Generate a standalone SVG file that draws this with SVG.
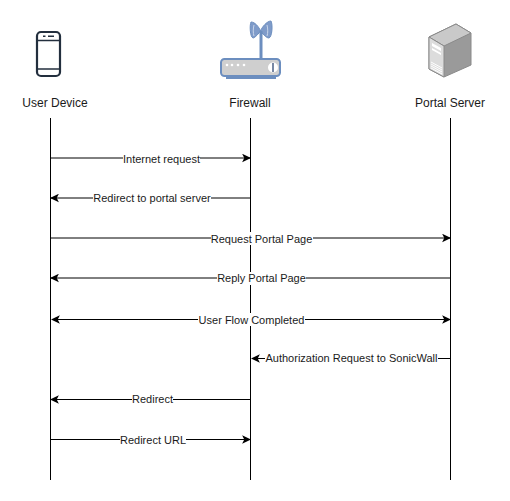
<svg xmlns="http://www.w3.org/2000/svg" width="510" height="501" viewBox="0 0 510 501">
<defs>
<marker id="a" markerUnits="userSpaceOnUse" markerWidth="9" markerHeight="9" refX="7" refY="4" orient="auto-start-reverse" viewBox="0 0 8 8"><path d="M0 0.200L8 4L0 7.800L1.900 4Z" fill="#000"/></marker>
</defs>
<style>
text{font-family:"Liberation Sans",Arial,sans-serif;font-size:11px;fill:#1a1a1a;text-anchor:middle}
.t{font-size:12px}
.l{stroke:#000;stroke-width:1;fill:none}
.c{stroke:#000;stroke-width:1;fill:none;marker-end:url(#a)}
.b{fill:#fff}
</style>
<rect width="510" height="501" fill="#fff"/>
<g id="lifelines">
<path class="l" d="M50.500 118V480M250.500 118V480M450.500 118V480"/>
</g>
<g id="connectors">
<path class="c" d="M51 158H250"/>
<path class="c" d="M250 198H51"/>
<path class="c" d="M51 238H450"/>
<path class="c" d="M450 278H51"/>
<path class="c" style="marker-start:url(#a)" d="M52 319.500H450"/>
<path class="c" d="M450 358.500H252"/>
<path class="c" d="M250 399.500H51"/>
<path class="c" d="M51 439.500H250"/>
</g>
<g id="labels">
<rect class="b" x="123" y="152" width="77" height="13"/><text x="161.500" y="163">Internet request</text>
<rect class="b" x="93" y="191" width="118" height="13"/><text x="152" y="201.500">Redirect to portal server</text>
<rect class="b" x="211" y="232" width="102" height="13"/><text x="261.500" y="243">Request Portal Page</text>
<rect class="b" x="217" y="272" width="89" height="13"/><text x="261.500" y="282">Reply Portal Page</text>
<rect class="b" x="198" y="313" width="107" height="13"/><text x="251.500" y="324">User Flow Completed</text>
<rect class="b" x="265" y="352" width="173" height="13"/><text x="351.500" y="362">Authorization Request to SonicWall</text>
<rect class="b" x="132" y="393" width="41" height="13"/><text x="152.500" y="403">Redirect</text>
<rect class="b" x="120" y="433" width="66" height="13"/><text x="153" y="444">Redirect URL</text>
</g>
<g id="user-device">
<rect x="37" y="32" width="23" height="44" rx="4" fill="#fff" stroke="#232f3e" stroke-width="2.200"/>
<path d="M37 40.500H60M37 69H60" stroke="#232f3e" stroke-width="1.500" fill="none"/>
<path d="M43 36.300H45.500M48 36.300H54" stroke="#232f3e" stroke-width="1.600" fill="none"/>
<text class="t" x="55" y="107">User Device</text>
</g>
<g id="firewall">
<g fill="#7f9bc9" stroke="#6c8ebf" stroke-width="1">
<path d="M251 22C255 22 259 27 260.500 31C259 33 255 38 253 38C250 37 249.500 25 251 22Z"/>
<path d="M271 21C267 21 262 27 260.500 31C262 33 266 38 269 38C272 37 273 25 271 21Z"/>
</g>
<path d="M254 25C253 29 253 33 254 36M267 25C268 29 268 33 267 36" stroke="#c9d6ea" stroke-width="1" fill="none"/>
<path d="M261 31V59" stroke="#6c8ebf" stroke-width="3"/>
<path d="M226 79H276V75H226Z" fill="#6c8ebf"/>
<rect x="221" y="59" width="59" height="17" rx="3.500" fill="#cfcfcf" stroke="#6c8ebf" stroke-width="2"/>
<circle cx="273" cy="67.500" r="5" fill="#fff"/>
<path d="M273 63V72" stroke="#4a5f85" stroke-width="1.500"/>
<g fill="#fff"><circle cx="227" cy="65" r="1.300"/><circle cx="232" cy="65" r="1.300"/><circle cx="238" cy="65" r="1.300"/><circle cx="244" cy="65" r="1.300"/></g>
<text class="t" x="250" y="107">Firewall</text>
</g>
<g id="portal-server">
<path d="M429 37L456 24L471 33V65L444 77L429 69Z" fill="#9a9a9a" stroke="#8a8a8a"/>
<path d="M429 37L456 24L471 33L444 46Z" fill="#c9c9c9" stroke="#8a8a8a"/>
<path d="M429 37L444 46V77L429 69Z" fill="#dcdcdc" stroke="#8a8a8a"/>
<path d="M432 43L441 48V51L432 46ZM432 48L441 53V55L432 50Z" fill="#fff"/>
<path d="M431 62L442 68M431 64L442 70M431 66L442 72M431 68L442 74" stroke="#fff" stroke-width="1"/>
<text class="t" x="450" y="107">Portal Server</text>
</g>
</svg>
